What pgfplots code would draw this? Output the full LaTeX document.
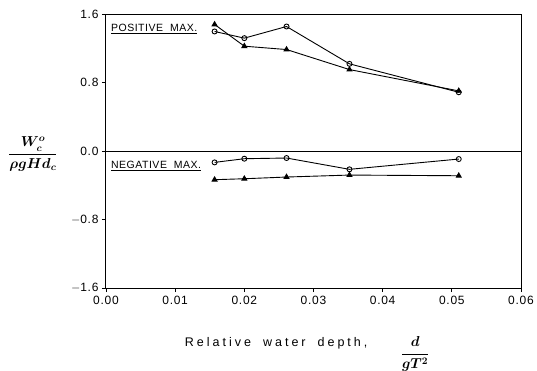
\documentclass[border=0pt]{standalone}
\usepackage{amsmath}
\usepackage{fontspec}
\setmainfont{Liberation Sans}
\newfontfamily\tickfont[LetterSpace=6]{Liberation Sans}
\newfontfamily\labfont[LetterSpace=24]{Liberation Sans}
\newfontfamily\boxfont[LetterSpace=5]{Liberation Sans}
\usepackage{bm}
\usepackage{pgfplots}
\pgfplotsset{compat=1.18}
\begin{document}
\begin{tikzpicture}
\useasboundingbox (-106pt,-82pt) rectangle (431pt,288pt);
\begin{axis}[
  scale only axis, width=415pt, height=274pt,
  at={(0,0)}, anchor=south west,
  xmin=0, xmax=0.06, ymin=-1.6, ymax=1.6,
  scaled x ticks=false, scaled y ticks=false,
  xtick={0,0.01,0.02,0.03,0.04,0.05,0.06},
  ytick={-1.6,-0.8,0,0.8,1.6},
  xticklabels={0.00,0.01,0.02,0.03,0.04,0.05,0.06},
  yticklabels={$-$1.6,$-$0.8,0.0,0.8,1.6},
  tick align=outside, tick pos=left,
  major tick length=4pt,
  axis line style={line width=1pt},
  every tick/.style={line width=0.8pt, black},
  tick label style={font=\tickfont\fontsize{12}{14}\selectfont},
  xticklabel style={yshift=-1pt},
  /pgf/number format/assume math mode=true,
  clip=false,
]
\draw[line width=0.9pt] (axis cs:0,0) -- (axis cs:0.06,0);
\addplot[black, line width=0.9pt, mark=o, mark size=2.5pt, mark options={line width=0.9pt}] coordinates {
  (0.0157,1.396) (0.0200,1.318) (0.0261,1.454) (0.0352,1.018) (0.0510,0.686)};
\addplot[black, line width=0.9pt, mark=triangle*, mark size=2.8pt] coordinates {
  (0.0157,1.478) (0.0200,1.224) (0.0261,1.185) (0.0352,0.951) (0.0510,0.702)};
\addplot[black, line width=0.9pt, mark=o, mark size=2.5pt, mark options={line width=0.9pt}] coordinates {
  (0.0157,-0.133) (0.0200,-0.090) (0.0261,-0.082) (0.0352,-0.214) (0.0510,-0.094)};
\addplot[black, line width=0.9pt, mark=triangle*, mark size=2.8pt] coordinates {
  (0.0157,-0.335) (0.0200,-0.324) (0.0261,-0.304) (0.0352,-0.281) (0.0510,-0.289)};
\node[anchor=north west, inner sep=0pt, font=\boxfont\fontsize{10.5}{12}\selectfont] (p) at (axis cs:0.0007,1.484) {\underline{POSITIVE\ \ MAX.}};
\node[anchor=north west, inner sep=0pt, font=\boxfont\fontsize{10.5}{12}\selectfont] (n) at (axis cs:0.0007,-0.116) {\underline{NEGATIVE\ \ MAX.}};
\node[anchor=center, yshift=-3pt, inner sep=0pt] at (axis description cs:-0.176,0.5) {\fontsize{14}{16}\selectfont$\bm{\dfrac{W^{o}_{c}}{\rho g H d_{c}}}$};
\node[anchor=base, font=\labfont\fontsize{12.5}{14}\selectfont] at (axis description cs:0.41,-0.215) {Relative\hspace{12pt}water\hspace{12pt}depth,};
\node[anchor=center, inner sep=0pt] at (axis description cs:0.745,-0.241) {\fontsize{14}{16}\selectfont$\bm{\dfrac{d}{gT^{2}}}$};
\end{axis}
\end{tikzpicture}
\end{document}
